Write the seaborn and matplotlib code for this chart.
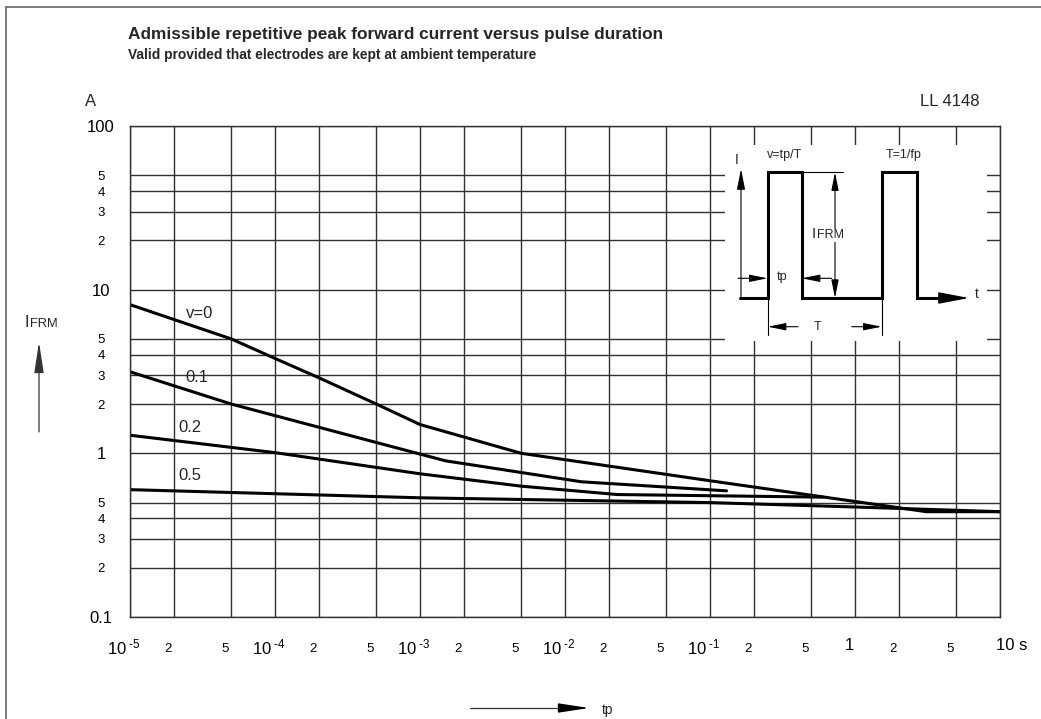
import matplotlib
matplotlib.use('Agg')
import matplotlib.pyplot as plt
from matplotlib.patches import Rectangle
from matplotlib.transforms import ScaledTranslation
import seaborn as sns
import pandas as pd

# curves (tp in s, IFRM in A)
tp_v0 = [1e-5, 5e-5, 1e-4, 2e-4, 5e-4, 1e-3, 5e-3, 1e-1, 3.1, 10]
ifrm_v0 = [8.1, 5.0, 3.8, 2.9, 2.0, 1.5, 1.0, 0.68, 0.44, 0.44]
tp_v01 = [1e-5, 5e-5, 1.5e-3, 1.3e-2, 1.3e-1]
ifrm_v01 = [3.15, 2.0, 0.90, 0.67, 0.59]
tp_v02 = [1e-5, 1e-4, 1e-3, 5e-3, 2.3e-2, 0.6]
ifrm_v02 = [1.29, 1.01, 0.75, 0.63, 0.56, 0.54]
tp_v05 = [1e-5, 1e-3, 1e-1, 1, 10]
ifrm_v05 = [0.60, 0.535, 0.50, 0.47, 0.44]

curve_names = ['v=0', '0.1', '0.2', '0.5']
label_tp = [2.45e-5, 2.4e-5, 2.15e-5, 2.15e-5]
label_ifrm = [7.2, 2.9, 1.43, 0.73]

x_major = [1e-5, 1e-4, 1e-3, 1e-2, 1e-1, 1, 10]
x_major_labels = [r'$10^{\;\text{-}5}$', r'$10^{\;\text{-}4}$', r'$10^{\;\text{-}3}$',
                  r'$10^{\;\text{-}2}$', r'$10^{\;\text{-}1}$', '1', '10 s']
x_minor = [2e-5, 5e-5, 2e-4, 5e-4, 2e-3, 5e-3, 2e-2, 5e-2, 2e-1, 5e-1, 2, 5]
x_minor_labels = ['2', '5'] * 6
y_major = [0.1, 1, 10, 100]
y_major_labels = ['0.1', '1', '10', '100']
y_minor = [0.2, 0.3, 0.4, 0.5, 2, 3, 4, 5, 20, 30, 40, 50]
y_minor_labels = ['2', '3', '4', '5'] * 3

df = pd.concat([
    pd.DataFrame({'tp': tp_v0, 'ifrm': ifrm_v0, 'v': '0'}),
    pd.DataFrame({'tp': tp_v01, 'ifrm': ifrm_v01, 'v': '0.1'}),
    pd.DataFrame({'tp': tp_v02, 'ifrm': ifrm_v02, 'v': '0.2'}),
    pd.DataFrame({'tp': tp_v05, 'ifrm': ifrm_v05, 'v': '0.5'}),
], ignore_index=True)

sns.set_style('white')
plt.rcParams['font.family'] = ['Liberation Sans', 'DejaVu Sans']
plt.rcParams['mathtext.fontset'] = 'custom'
plt.rcParams['mathtext.rm'] = 'Liberation Sans'
plt.rcParams['mathtext.it'] = 'Liberation Sans:italic'
plt.rcParams['mathtext.bf'] = 'Liberation Sans:bold'
plt.rcParams['mathtext.default'] = 'regular'

W, H = 1041, 719
fig = plt.figure(figsize=(W / 100, H / 100), dpi=100)
ax = fig.add_axes([130 / W, 1 - 617 / H, 870 / W, 491 / H])

sns.lineplot(data=df, x='tp', y='ifrm', units='v', estimator=None, sort=False,
             color='black', lw=2.2, ax=ax, legend=False)
ax.set_xscale('log')
ax.set_yscale('log')
ax.set_xlim(1e-5, 10)
ax.set_ylim(0.1, 100)
ax.set_xlabel('')
ax.set_ylabel('')

ax.set_xticks(x_major)
ax.set_xticklabels(x_major_labels)
ax.set_xticks(x_minor, minor=True)
ax.set_xticklabels(x_minor_labels, minor=True)
ax.set_yticks(y_major)
ax.set_yticklabels(y_major_labels)
ax.set_yticks(y_minor, minor=True)
ax.set_yticklabels(y_minor_labels, minor=True)

ax.tick_params(which='both', length=0, colors='black')
ax.tick_params(axis='x', which='major', labelsize=12, pad=15)
ax.tick_params(axis='x', which='minor', labelsize=9.5, pad=18.5)
ax.tick_params(axis='y', which='major', labelsize=12, pad=20.9)
ax.tick_params(axis='y', which='minor', labelsize=9.5, pad=20.9)

shift = ScaledTranslation(-6 / 100, 0, fig.dpi_scale_trans)
for lbl in ax.get_xticklabels(which='both'):
    if lbl.get_text() == '10 s':
        lbl.set_horizontalalignment('left')
        lbl.set_transform(lbl.get_transform() + ScaledTranslation(-4 / 100, 0, fig.dpi_scale_trans))
    else:
        lbl.set_transform(lbl.get_transform() + shift)
for lbl in ax.get_yticklabels(which='both'):
    lbl.set_horizontalalignment('center')

ax.grid(True, which='both', color='#303030', lw=1.0)
for s in ax.spines.values():
    s.set_color('#303030')
    s.set_linewidth(1.0)

for name, t, i in zip(curve_names, label_tp, label_ifrm):
    ax.text(t, i, name, fontsize=12, ha='left', va='center')

# overlay in pixel coordinates for the annotations and the pulse sketch
ov = fig.add_axes([0, 0, 1, 1], zorder=5)
ov.set_xlim(0, W)
ov.set_ylim(H, 0)
ov.axis('off')

ov.plot([6, 6], [H, 7], color='#666666', lw=1.2, clip_on=False)
ov.plot([6, W], [7, 7], color='#666666', lw=1.2, clip_on=False)

ov.text(128, 34, 'Admissible repetitive peak forward current versus pulse duration',
        fontsize=12.4, fontweight='bold', va='center')
ov.text(128, 55, 'Valid provided that electrodes are kept at ambient temperature',
        fontsize=9.9, fontweight='bold', va='center')
ov.text(85, 101, 'A', fontsize=12, va='center')
ov.text(920, 102, 'LL 4148', fontsize=12, va='center')

# y axis quantity with arrow
ov.text(25, 327, 'I', fontsize=11.7, va='baseline')
ov.text(30, 327, 'FRM', fontsize=9.3, va='baseline')
ov.annotate('', xy=(39, 342), xytext=(39, 432),
            arrowprops=dict(arrowstyle='-|>,head_length=1.9,head_width=0.29',
                            color='#333333', lw=0.9, shrinkA=0, shrinkB=0, mutation_scale=10))
# x axis quantity with arrow
ov.plot([470, 565], [708, 708], color='#333333', lw=0.9)
ov.annotate('', xy=(589, 708), xytext=(560, 708),
            arrowprops=dict(arrowstyle='-|>,head_length=1.9,head_width=0.29',
                            color='black', lw=0.9, shrinkA=0, shrinkB=0, mutation_scale=10))
ov.text(602, 710, 'tp', fontsize=10, va='center')

# pulse sketch
ov.add_patch(Rectangle((725, 145), 262, 196, fc='white', ec='none', zorder=1))
pulse_x = [740, 767.7, 767.7, 801.7, 801.7, 881.7, 881.7, 916.7, 916.7, 945]
pulse_y = [298, 298, 172.3, 172.3, 298, 298, 172.3, 172.3, 298, 298]
ov.plot(pulse_x, pulse_y, color='black', lw=2.2, solid_joinstyle='miter', zorder=3)
ov.annotate('', xy=(969, 298), xytext=(940, 298),
            arrowprops=dict(arrowstyle='-|>,head_length=1.9,head_width=0.36',
                            color='black', lw=1, shrinkA=0, shrinkB=0, mutation_scale=10), zorder=3)
ov.text(975, 294, 't', fontsize=10, va='center')
ov.annotate('', xy=(741, 169), xytext=(741, 298),
            arrowprops=dict(arrowstyle='-|>,head_length=1.25,head_width=0.25',
                            color='black', lw=0.8, shrinkA=0, shrinkB=0, mutation_scale=10), zorder=3)
ov.text(737, 160, 'I', fontsize=10, ha='center', va='center')
ov.text(785, 155, 'v=tp/T', fontsize=9, ha='center', va='center')
ov.text(904, 155, 'T=1/fp', fontsize=9, ha='center', va='center')

thin = dict(color='black', lw=0.8, shrinkA=0, shrinkB=0, mutation_scale=10)
ov.plot([801.7, 843.3], [172.3, 172.3], color='black', lw=0.8, zorder=3)
ov.annotate('', xy=(835, 172.3), xytext=(835, 298),
            arrowprops=dict(arrowstyle='<|-|>,head_length=1.1,head_width=0.22', **thin), zorder=3)
ov.text(811.5, 238.3, 'I', fontsize=11, va='baseline', zorder=4,
        bbox=dict(fc='white', ec='none', pad=0.5))
ov.text(816.5, 238.3, 'FRM', fontsize=9, va='baseline', zorder=4,
        bbox=dict(fc='white', ec='none', pad=0.5))

ov.annotate('', xy=(767.7, 278.3), xytext=(738, 278.3),
            arrowprops=dict(arrowstyle='-|>,head_length=1.1,head_width=0.22', **thin), zorder=3)
ov.annotate('', xy=(801.7, 278.3), xytext=(831.7, 278.3),
            arrowprops=dict(arrowstyle='-|>,head_length=1.1,head_width=0.22', **thin), zorder=3)
ov.text(782, 276.7, 'tp', fontsize=9, ha='center', va='center')

ov.plot([767.7, 767.7], [298, 335], color='black', lw=0.8, zorder=3)
ov.plot([881.7, 881.7], [298, 335], color='black', lw=0.8, zorder=3)
ov.annotate('', xy=(767.7, 326.7), xytext=(798, 326.7),
            arrowprops=dict(arrowstyle='-|>,head_length=1.1,head_width=0.22', **thin), zorder=3)
ov.annotate('', xy=(881.7, 326.7), xytext=(851.7, 326.7),
            arrowprops=dict(arrowstyle='-|>,head_length=1.1,head_width=0.22', **thin), zorder=3)
ov.text(818, 326.7, 'T', fontsize=9, ha='center', va='center')

fig.savefig('out.png', dpi=100)
